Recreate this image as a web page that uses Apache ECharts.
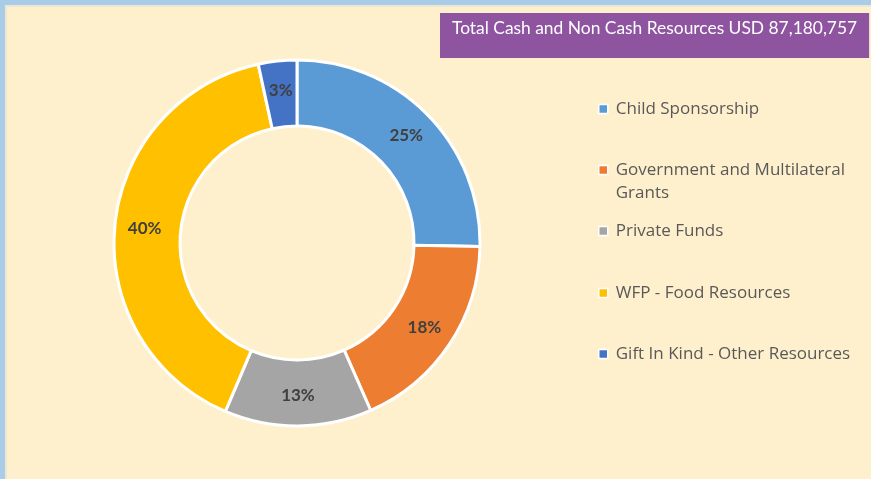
<!DOCTYPE html>
<html><head><meta charset="utf-8">
<script src="https://cdn.jsdelivr.net/npm/echarts@6/dist/echarts.min.js"></script>
<style>
html,body{margin:0;padding:0;background:#A9CCE9;}
#wrap{position:absolute;left:5px;top:5px;width:866px;height:474px;background:#EDE6D2;}
#chart{position:absolute;left:2px;top:2px;width:864px;height:472px;background:#FFF0CD;}
</style></head>
<body><div id="wrap"><div id="chart"></div></div>
<script>
const categories = ['Child Sponsorship','Government and Multilateral Grants','Private Funds','WFP - Food Resources','Gift In Kind - Other Resources'];
const shares = [25.3, 18.1, 13.0, 40.2, 3.4];
const colors = ['#5B9BD5','#ED7D31','#A5A5A5','#FFC000','#4472C4'];
const titleText = 'Total Cash and Non Cash Resources USD 87,180,757';

const chart = echarts.init(document.getElementById('chart'));
const legendCenters = [102, 163, 224, 286, 347];
const GOV = 'Government and Multilateral Grants';
const legends = categories.map((c, i) => ({
  data: [c],
  left: 591,
  top: c === GOV ? legendCenters[i] - 34.5 : legendCenters[i] - 11.5,
  orient: 'vertical',
  icon: 'rect',
  itemWidth: 9,
  itemHeight: 9,
  itemGap: 0,
  padding: 0,
  selectedMode: false,
  itemStyle: {borderColor: '#FFFFFF', borderWidth: 1.5},
  formatter: c === GOV ? '{e|}\n{t|Government and Multilateral}\n{t|Grants}' : '{t|' + c + '}',
  textStyle: {
    fontFamily: 'Open Sans', fontSize: 17, color: '#595959', lineHeight: 23,
    rich: {
      e: {lineHeight: 23, fontSize: 17, padding: [0, 0, 0, 3]},
      t: {fontFamily: 'Open Sans', fontSize: 17, color: '#595959', lineHeight: 23, padding: [0, 0, 0, 3]}
    }
  }
}));

chart.setOption({
  animation: false,
  color: colors,
  title: {
    text: titleText,
    left: 433, top: 6,
    backgroundColor: '#8E54A0',
    padding: [5, 12, 20, 12],
    textStyle: {color: '#FFFFFF', fontFamily: 'Lato', fontSize: 17.4, fontWeight: 'normal', lineHeight: 20}
  },
  legend: legends,
  series: [{
    type: 'pie',
    center: [290, 236],
    radius: [117, 183],
    startAngle: 90,
    clockwise: true,
    itemStyle: {borderColor: '#FFFFFF', borderWidth: 3},
    label: {
      position: 'inside',
      formatter: p => Math.round(p.percent) + '%',
      color: '#404040', fontFamily: 'Lato', fontWeight: 'bold', fontSize: 17
    },
    labelLine: {show: false},
    data: categories.map((c, i) => ({name: c, value: shares[i]}))
  }]
});
</script></body></html>
